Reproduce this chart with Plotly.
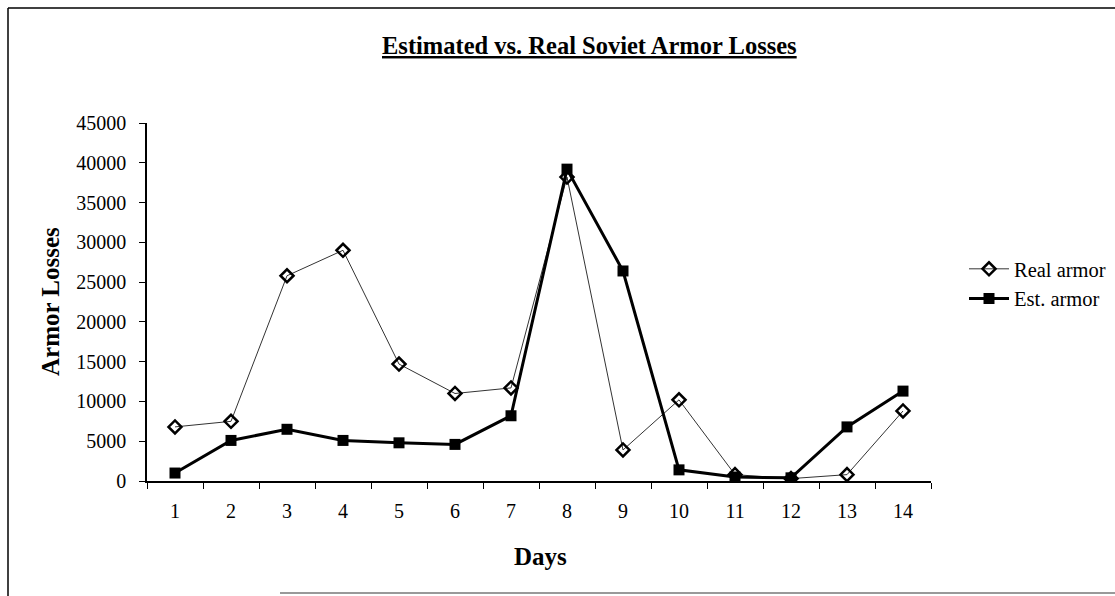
import plotly.graph_objects as go

days = [str(d) for d in range(1, 15)]
real_armor = [6800, 7500, 25800, 29000, 14700, 11000, 11700, 38200, 3900, 10200, 800, 300, 800, 8800]
est_armor = [1000, 5100, 6500, 5100, 4800, 4600, 8200, 39200, 26400, 1400, 500, 400, 6800, 11300]
y_ticks = list(range(0, 45001, 5000))
y_tick_text = [str(v) for v in y_ticks]

FONT = "Liberation Serif, Times New Roman, serif"
W, H = 1115, 596

fig = go.Figure()
fig.add_trace(go.Scatter(
    x=days, y=real_armor, name="Real armor", mode="lines+markers",
    line=dict(color="#333333", width=1),
    marker=dict(symbol="diamond-open", size=10, color="black", line=dict(width=2.5, color="black")),
))
fig.add_trace(go.Scatter(
    x=days, y=est_armor, name="Est. armor", mode="lines+markers",
    line=dict(color="black", width=3),
    marker=dict(symbol="square", size=11, color="black"),
))

# plot area in pixels: x 147..931, y 123..481
L, R, T, B = 147, 931, 123, 481
def px(x):
    return (x - L) / (R - L)
def py(y):
    return (B - y) / (B - T)

fig.update_layout(
    width=W, height=H,
    margin=dict(l=L, r=W - R, t=T, b=H - B, autoexpand=False),
    paper_bgcolor="white", plot_bgcolor="white",
    font=dict(family=FONT, color="black", size=20),
    showlegend=True,
    legend=dict(xref="container", yref="container", x=964 / W, y=1 - 284 / H,
                xanchor="left", yanchor="middle",
                font=dict(size=20.5, family=FONT), tracegroupgap=0,
                bgcolor="rgba(0,0,0,0)", itemwidth=40),
    xaxis=dict(type="category", tickson="boundaries", ticks="outside", ticklen=6,
               tickcolor="black", showline=True, linecolor="black", linewidth=1.5,
               showgrid=False, tickfont=dict(size=20, family=FONT),
               ticklabelstandoff=11,
               range=[-0.5, 13.5], zeroline=False),
    yaxis=dict(range=[0, 45000], tickvals=y_ticks, ticktext=y_tick_text,
               ticks="outside", ticklen=6, ticklabelstandoff=9,
               tickcolor="black", showline=True, linecolor="black", linewidth=1.5,
               showgrid=False, zeroline=False, tickfont=dict(size=20, family=FONT)),
    annotations=[
        dict(text="<b><u>Estimated vs. Real Soviet Armor Losses</u></b>",
             xref="paper", yref="paper", x=px(589), y=py(45),
             xanchor="center", yanchor="middle", showarrow=False,
             font=dict(size=24.5, family=FONT)),
        dict(text="<b>Armor Losses</b>", xref="paper", yref="paper",
             x=px(50), y=py(302), textangle=-90, xanchor="center", yanchor="middle",
             showarrow=False, font=dict(size=25, family=FONT)),
        dict(text="<b>Days</b>", xref="paper", yref="paper",
             x=px(540), y=py(556), xanchor="center", yanchor="middle",
             showarrow=False, font=dict(size=25, family=FONT)),
    ],
    shapes=[
        dict(type="line", xref="paper", yref="paper", x0=px(8), x1=px(8), y0=py(8), y1=py(596),
             line=dict(color="black", width=1.5)),
        dict(type="line", xref="paper", yref="paper", x0=px(8), x1=px(1115), y0=py(8), y1=py(8),
             line=dict(color="black", width=1.5)),
        dict(type="line", xref="paper", yref="paper", x0=px(280), x1=px(1115), y0=py(593), y1=py(593),
             line=dict(color="#777777", width=1.5)),
    ],
)

fig.write_html("out.html")
